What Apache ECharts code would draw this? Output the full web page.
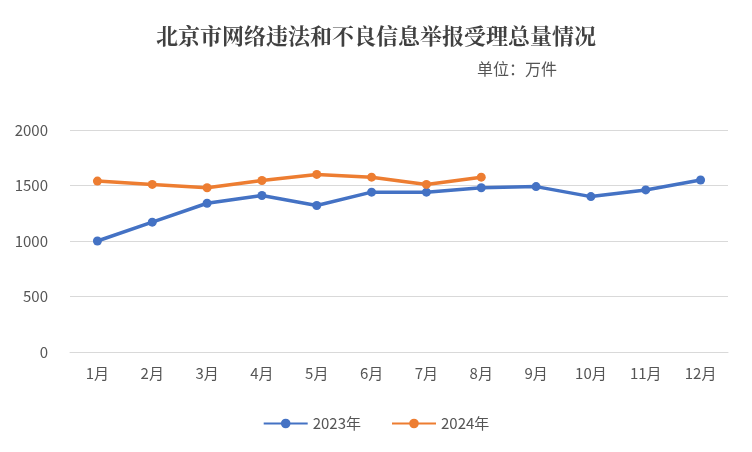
<!DOCTYPE html>
<html>
  <head>
    <meta charset="utf-8">
    <script src="https://cdn.jsdelivr.net/npm/echarts/dist/echarts.min.js"></script>
    <style>body{margin:0;background:#fff}</style>
  </head>
  <body>
    <div id="chart" style="width:752px;height:452px;"></div>
    <script type="text/javascript">
      var months = ['1月','2月','3月','4月','5月','6月','7月','8月','9月','10月','11月','12月'];
      var values2023 = [1000, 1170, 1340, 1410, 1320, 1440, 1440, 1480, 1490, 1400, 1460, 1550];
      var values2024 = [1540, 1510, 1480, 1545, 1600, 1575, 1510, 1575];

      var chart = echarts.init(document.getElementById('chart'));
      var font = '"Noto Sans CJK SC", sans-serif';
      function line(name, data, color) {
        return {
          name: name, type: 'line', data: data,
          symbol: 'circle', symbolSize: 9,
          lineStyle: { width: 3.5, color: color },
          itemStyle: { color: color }
        };
      }
      chart.setOption({
        backgroundColor: '#fff',
        title: [
          { text: '北京市网络违法和不良信息举报受理总量情况', left: 'center', top: 20,
            textStyle: { fontFamily: '"Noto Serif CJK SC", "Noto Sans CJK SC", serif', fontSize: 22, fontWeight: 'bold', color: '#404040' } },
          { text: '单位：万件', left: 472, top: 56,
            textStyle: { fontFamily: font, fontSize: 16, fontWeight: 'normal', color: '#555' } }
        ],
        grid: { left: 70, right: 24, top: 130, bottom: 100 },
        legend: {
          bottom: 16, left: 'center', itemWidth: 44, itemHeight: 12, itemGap: 30,
          textStyle: { fontFamily: font, fontSize: 15, color: '#555' },
          data: ['2023年', '2024年']
        },
        xAxis: {
          type: 'category', data: months,
          axisLine: { lineStyle: { color: '#d9d9d9' } },
          axisTick: { show: false },
          axisLabel: { fontFamily: font, fontSize: 15, color: '#555', margin: 14 }
        },
        yAxis: {
          type: 'value', min: 0, max: 2000, interval: 500,
          axisLabel: { fontFamily: font, fontSize: 15, color: '#555', margin: 22,
            formatter: function (v) { return String(v); } },
          splitLine: { lineStyle: { color: '#d9d9d9' } }
        },
        series: [
          line('2023年', values2023, '#4472C4'),
          line('2024年', values2024, '#ED7D31')
        ]
      });
    </script>
  </body>
</html>
